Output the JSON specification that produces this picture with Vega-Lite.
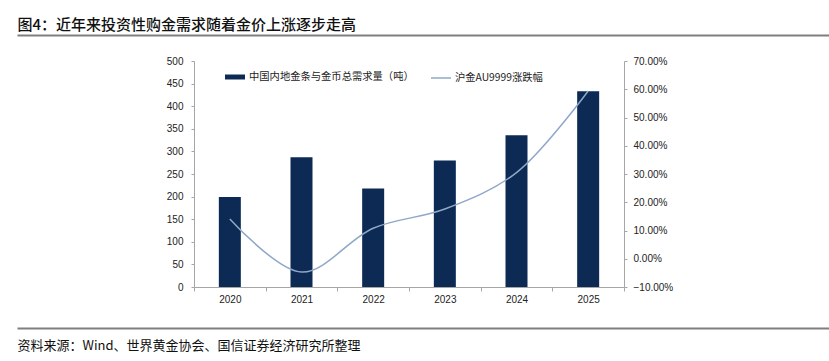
{
  "$schema": "https://vega.github.io/schema/vega-lite/v6.json",
  "padding": {"left": 17, "top": 17, "right": 0, "bottom": 0},
  "config": {
    "view": {"stroke": null},
    "font": "Liberation Sans, Noto Sans CJK SC",
    "axis": {
      "labelFont": "Liberation Sans, Noto Sans CJK SC",
      "labelFontSize": 10,
      "labelColor": "#222222",
      "domainColor": "#A6A6A6",
      "tickColor": "#A6A6A6",
      "grid": false
    }
  },
  "data": {
    "values": [
      {"year": "2020", "demand": 199, "change": 0.141},
      {"year": "2021", "demand": 287, "change": -0.047},
      {"year": "2022", "demand": 218, "change": 0.108},
      {"year": "2023", "demand": 280, "change": 0.176},
      {"year": "2024", "demand": 336, "change": 0.305},
      {"year": "2025", "demand": 433, "change": 0.594}
    ]
  },
  "spacing": 20,
  "vconcat": [
    {
      "width": 430,
      "height": 1,
      "mark": {"type": "rule", "opacity": 0},
      "encoding": {
        "x": {
          "datum": 0,
          "type": "quantitative",
          "scale": {"domain": [0, 1], "range": [-177, 635]},
          "axis": {
            "orient": "top",
            "domain": true,
            "domainColor": "#7F7F7F",
            "domainWidth": 2,
            "ticks": false,
            "labels": false,
            "grid": false,
            "title": "图4：近年来投资性购金需求随着金价上涨逐步走高",
            "titleAnchor": "start",
            "titleAlign": "left",
            "titleFont": "Noto Sans CJK SC",
            "titleFontSize": 15,
            "titleFontWeight": 500,
            "titleColor": "#111111",
            "titlePadding": 3
          }
        }
      }
    },
    {
      "width": 430,
      "height": 226,
      "layer": [
        {
          "mark": {"type": "bar", "size": 22},
          "encoding": {
            "x": {
              "field": "year",
              "type": "ordinal",
              "scale": {"paddingInner": 0, "paddingOuter": 0},
              "axis": {
                "title": null,
                "labelAngle": 0,
                "tickBand": "extent",
                "tickSize": 4,
                "labelPadding": 3,
                "minExtent": 20
              }
            },
            "y": {
              "field": "demand",
              "type": "quantitative",
              "scale": {"domain": [0, 500]},
              "axis": {
                "orient": "left",
                "title": null,
                "values": [0, 50, 100, 150, 200, 250, 300, 350, 400, 450, 500],
                "tickSize": 3,
                "labelPadding": 8
              }
            },
            "fill": {
              "datum": "中国内地金条与金币总需求量（吨）",
              "type": "nominal",
              "scale": {"range": ["#0C2A53"]},
              "legend": {
                "orient": "none",
                "legendX": 31,
                "legendY": 32,
                "title": null,
                "symbolType": "M-1,-0.25H1V0.25H-1Z",
                "symbolSize": 400,
                "symbolStrokeWidth": 0,
                "labelOffset": 4,
                "labelLimit": 400,
                "labelFont": "Noto Sans CJK SC",
                "labelFontSize": 10.3,
                "labelColor": "#222222"
              }
            }
          }
        },
        {
          "mark": {"type": "line", "interpolate": "catmull-rom", "strokeWidth": 1.5},
          "encoding": {
            "x": {"field": "year", "type": "ordinal"},
            "y": {
              "field": "change",
              "type": "quantitative",
              "scale": {"domain": [-0.1, 0.7]},
              "axis": {
                "orient": "right",
                "title": null,
                "format": ".2%",
                "values": [-0.1, 0, 0.1, 0.2, 0.3, 0.4, 0.5, 0.6, 0.7],
                "tickSize": 3,
                "labelPadding": 6
              }
            },
            "stroke": {
              "datum": "沪金AU9999涨跌幅",
              "type": "nominal",
              "scale": {"range": ["#8FA8C8"]},
              "legend": {
                "orient": "none",
                "legendX": 236,
                "legendY": 32,
                "title": null,
                "symbolType": "stroke",
                "symbolSize": 400,
                "symbolStrokeWidth": 1.5,
                "labelOffset": 3,
                "labelLimit": 400,
                "labelFont": "Noto Sans CJK SC",
                "labelFontSize": 10.3,
                "labelColor": "#222222"
              }
            }
          }
        }
      ],
      "resolve": {"scale": {"y": "independent"}}
    },
    {
      "width": 430,
      "height": 1,
      "mark": {"type": "rule", "opacity": 0},
      "encoding": {
        "x": {
          "datum": 0,
          "type": "quantitative",
          "scale": {"domain": [0, 1], "range": [-177, 635]},
          "axis": {
            "orient": "bottom",
            "domain": true,
            "domainColor": "#7F7F7F",
            "domainWidth": 2,
            "ticks": false,
            "labels": false,
            "grid": false,
            "title": "资料来源：Wind、世界黄金协会、国信证券经济研究所整理",
            "titleAnchor": "start",
            "titleAlign": "left",
            "titleFont": "Noto Sans CJK SC",
            "titleFontSize": 13,
            "titleFontWeight": "normal",
            "titleColor": "#111111",
            "titlePadding": 11
          }
        }
      }
    }
  ]
}
